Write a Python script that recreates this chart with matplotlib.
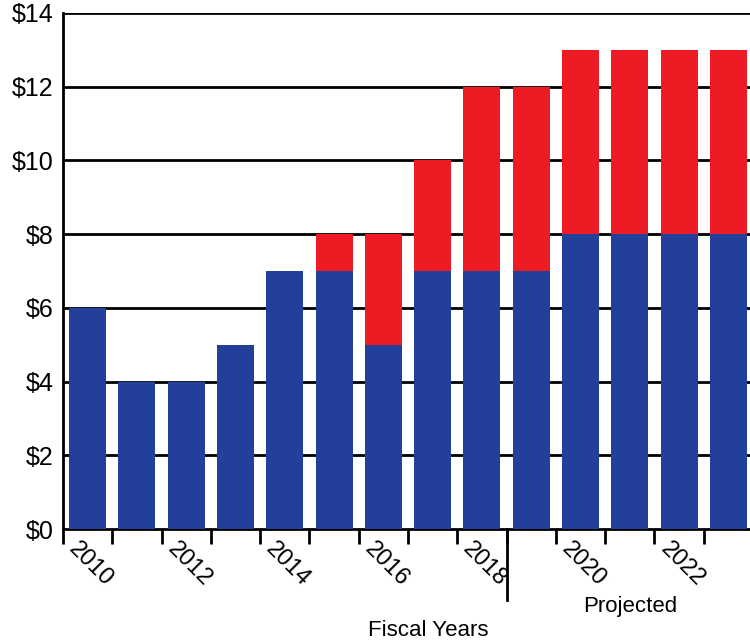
import numpy as np
import matplotlib.pyplot as plt
import matplotlib.transforms as mtransforms

plt.rcParams['font.family'] = ['Liberation Sans', 'DejaVu Sans']

years = list(range(2010, 2024))
base = [6, 4, 4, 5, 7, 7, 5, 7, 7, 7, 8, 8, 8, 8]
extra = [0, 0, 0, 0, 0, 1, 3, 3, 5, 5, 5, 5, 5, 5]
y_ticks = [0, 2, 4, 6, 8, 10, 12, 14]
y_labels = ['$' + str(v) for v in y_ticks]

blue = '#22409A'
red = '#ED1C24'

fig = plt.figure(figsize=(7.5, 6.43), dpi=100)
ax = fig.add_axes([0.084, 0.177, 0.92, 0.803])

x = np.arange(len(years))
ax.bar(x, base, width=0.75, color=blue, zorder=3)
ax.bar(x, extra, width=0.75, bottom=base, color=red, zorder=3)

ax.set_xlim(-0.5, len(years) - 0.5)
ax.set_ylim(0, 14)
ax.set_yticks(y_ticks)
ax.set_yticklabels(y_labels, fontsize=18)
ax.tick_params(axis='y', length=0, pad=7)
for v in y_ticks[1:]:
    ax.axhline(v, color='black', lw=2, zorder=1)

# ticks at category boundaries, labels on even years
edges = np.arange(len(years) + 1) - 0.5
ax.set_xticks(edges)
labels = [str(years[i]) if i < len(years) and years[i] % 2 == 0 else '' for i in range(len(edges))]
ax.set_xticklabels(labels, rotation=-45, ha='left', va='top', rotation_mode='anchor', fontsize=17)
ax.tick_params(axis='x', length=11, width=2, direction='out', pad=2)
offset = mtransforms.ScaledTranslation(17 / 100, 9 / 100, fig.dpi_scale_trans)
for lab in ax.get_xticklabels():
    lab.set_transform(lab.get_transform() + offset)

for s in ['top', 'right']:
    ax.spines[s].set_visible(False)
ax.spines['left'].set_linewidth(2)
ax.spines['bottom'].set_linewidth(2)

# separator between actual and projected
ax.plot([8.5, 8.5], [0, -1.92], color='black', lw=2, clip_on=False, zorder=4)
ax.text(11.0, -2.1, 'Projected', ha='center', va='center', fontsize=16)
fig.text(0.571, 0.02, 'Fiscal Years', ha='center', va='center', fontsize=16)

fig.savefig('out.png', dpi=100)
